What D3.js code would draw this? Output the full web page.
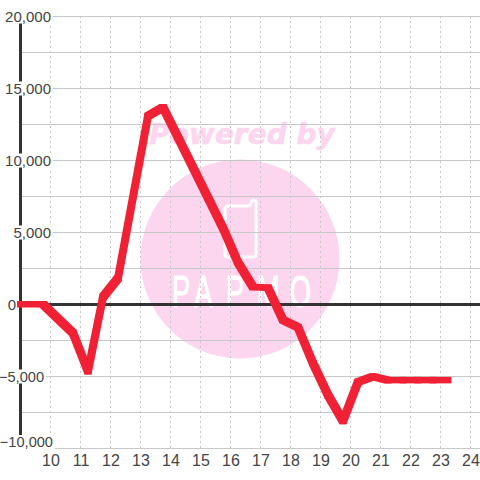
<!DOCTYPE html>
<html><head><meta charset="utf-8">
<script src="https://cdn.jsdelivr.net/npm/d3@7/dist/d3.min.js"></script>
<style>html,body{margin:0;background:#fff}svg{display:block}</style></head>
<body><svg id="c" width="480" height="480"></svg>
<script>
const hours=[9,9.75,10.75,11.25,11.75,12.25,13.25,13.75,14.25,14.75,15.25,15.75,16.25,16.75,17.25,17.75,18.25,18.75,19.25,19.75,20.25,20.75,21.25,21.75,22.25,22.75,23.25];
const values=[0,0,-2000,-4650,500,1800,13080,13680,11600,9500,7400,5300,2900,1200,1150,-1100,-1600,-4100,-6300,-8100,-5400,-5020,-5270,-5270,-5270,-5270,-5270];
const xTicks=[10,11,12,13,14,15,16,17,18,19,20,21,22,23,24];
const yLabels=[20000,15000,10000,5000,0,-5000,-10000];
const yGrid=[20000,17500,15000,12500,10000,7500,5000,2500,-2500,-5000,-7500,-10000];
const svg=d3.select("#c");
const x=d3.scaleLinear().domain([10,24]).range([50.5,470.5]);
const y=d3.scaleLinear().domain([-10000,20000]).range([448.5,16.5]);
const fmt=d3.format(",");
const font="'Liberation Sans',Arial,sans-serif";
const pink="#fcd6ee";
// watermark
const wm=svg.append("g");
wm.append("circle").attr("cx",240).attr("cy",259).attr("r",99.5).attr("fill",pink);
wm.append("text").attr("x",242).attr("y",144).attr("text-anchor","middle")
 .attr("font-family","'DejaVu Sans'").attr("font-weight","bold").attr("font-style","italic")
 .attr("font-size",28).attr("fill",pink).attr("stroke",pink).attr("stroke-width",0.6).text("Powered by");
wm.append("path").attr("fill","none").attr("stroke","#fff").attr("stroke-width",3).attr("stroke-linejoin","round")
 .attr("d","M229 206H247Q250 206 251 203L251.5 202Q252 200 254 200Q256 200 256 202V254Q256 257 253 257H228Q225 257 225 254V209Q225 206 229 206Z");
wm.append("text").attr("transform","translate(172,307) scale(0.62,1)")
 .attr("x","0 36 87 137 190").attr("y",0)
 .attr("font-family","'Liberation Sans'").attr("font-size",44).attr("fill","#fff")
 .attr("stroke","#fff").attr("stroke-width",1).text("PAPMO");
// grid
svg.append("g").selectAll("line").data(xTicks).join("line")
 .attr("x1",d=>x(d)).attr("x2",d=>x(d)).attr("y1",16).attr("y2",448)
 .attr("stroke","#c8c8c8").attr("stroke-dasharray","2,3");
svg.append("g").selectAll("line").data(yGrid).join("line")
 .attr("x1",22).attr("x2",480).attr("y1",d=>y(d)).attr("y2",d=>y(d))
 .attr("stroke","#c8c8c8").attr("stroke-width",1);
// axis lines
svg.append("line").attr("x1",20.5).attr("x2",20.5).attr("y1",16).attr("y2",448).attr("stroke","#333").attr("stroke-width",3);
svg.append("line").attr("x1",20).attr("x2",480).attr("y1",y(0)).attr("y2",y(0)).attr("stroke","#333").attr("stroke-width",3);
// y labels on white plates
const labelRight=d=>d===0?16:d===-5000?44:d===-10000?53:51;
const labelY=d=>d===-10000?y(d)-6.5:y(d);
const yg=svg.append("g").selectAll("g").data(yLabels).join("g");
yg.append("rect").attr("x",d=>d===0?6:2).attr("width",d=>d===0?12:labelRight(d))
 .attr("y",d=>labelY(d)-7).attr("height",14).attr("fill","#fff");
yg.append("text").attr("x",labelRight).attr("text-anchor","end").attr("y",labelY).attr("dy","0.36em")
 .attr("font-family",font).attr("font-size",d=>d<0?14.6:15).attr("fill","#444").text(fmt);
svg.append("g").selectAll("text").data(xTicks).join("text")
 .attr("x",d=>x(d)+0.5).attr("y",466).attr("text-anchor","middle")
 .attr("font-family",font).attr("font-size",16).attr("fill","#444").text(d=>d);
// line drawn with a rectangular pen: hull of the pen at both ends of each segment
const pen=(px,py)=>[[px-3.5,py-3.5],[px+3.5,py-3.5],[px+3.5,py+3],[px-3.5,py+3]];
const pts=values.map((v,i)=>[x(hours[i]),y(v)]);
svg.append("g").selectAll("path").data(d3.pairs(pts)).join("path")
 .attr("d",([a,b])=>"M"+d3.polygonHull(pen(...a).concat(pen(...b))).join("L")+"Z")
 .attr("fill","#f02035");
</script></body></html>
